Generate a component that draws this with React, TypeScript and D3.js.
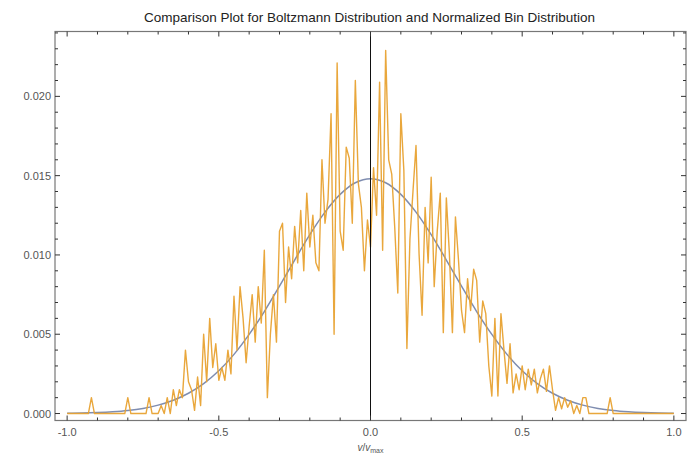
import React from "react";
import * as d3 from "d3";

const title = "Comparison Plot for Boltzmann Distribution and Normalized Bin Distribution";
const xTickValues = [-1, -0.5, 0, 0.5, 1];
const xTickLabels = ["-1.0", "-0.5", "0.0", "0.5", "1.0"];
const yTickValues = [0, 0.005, 0.01, 0.015, 0.02];
const yTickLabels = ["0.000", "0.005", "0.010", "0.015", "0.020"];

// normalized bin distribution, bins from -1.00 to 1.00 step 0.01
const binStart = -1;
const binStep = 0.01;
const binValues = [
  0, 0, 0, 0, 0, 0, 0, 0, 0.001, 0,
  0, 0, 0, 0, 0, 0, 0, 0, 0, 0,
  0.001, 0, 0, 0, 0, 0, 0, 0.001, 0, 0,
  0, 0.0005, 0, 0.001, 0, 0.0015, 0.0005, 0.0015, 0.001, 0.004,
  0.002, 0.0015, 0.0002, 0.0023, 0.0005, 0.005, 0.002, 0.006, 0.0029, 0.0044,
  0.0021, 0.0029, 0.0021, 0.004, 0.0025, 0.0074, 0.004, 0.008, 0.006, 0.0032,
  0.0055, 0.0075, 0.0045, 0.008, 0.0057, 0.0103, 0.001, 0.005, 0.0075, 0.0045,
  0.0115, 0.012, 0.007, 0.0105, 0.0085, 0.0118, 0.0095, 0.0128, 0.009, 0.0139,
  0.0105, 0.0125, 0.0095, 0.009, 0.016, 0.012, 0.0135, 0.0189, 0.005, 0.0221,
  0.0115, 0.0103, 0.0168, 0.0161, 0.012, 0.021, 0.0145, 0.013, 0.009, 0.0122,
  0.0105, 0.0155, 0.0125, 0.0209, 0.0103, 0.0229, 0.016, 0.0151, 0.0117, 0.0076,
  0.0189, 0.0153, 0.0041, 0.011, 0.014, 0.0169, 0.0101, 0.0062, 0.013, 0.0095,
  0.0149, 0.008, 0.0115, 0.0139, 0.0051, 0.0136, 0.0101, 0.0051, 0.0124, 0.0097,
  0.0065, 0.0051, 0.0085, 0.0065, 0.0091, 0.0084, 0.0045, 0.0071, 0.0063, 0.003,
  0.0011, 0.006, 0.0011, 0.0063, 0.004, 0.0019, 0.0044, 0.0013, 0.0025, 0.0015,
  0.003, 0.0015, 0.0028, 0.0018, 0.0028, 0.0013, 0.0022, 0.0028, 0.0014, 0.003,
  0.0015, 0.0002, 0.001, 0.0003, 0.001, 0.0004, 0.0008, 0, 0.0005, 0,
  0.001, 0.001, 0, 0, 0, 0, 0, 0, 0, 0.001,
  0, 0, 0, 0, 0, 0, 0, 0, 0, 0,
  0, 0, 0, 0, 0, 0, 0, 0, 0, 0,
  0,
];

// Boltzmann distribution curve, sampled from -1 to 1 step 0.05
const curveStart = -1;
const curveStep = 0.05;
const curveValues = [
  0.00002, 0.00003, 0.00006, 0.00011, 0.00019, 0.00032, 0.00053, 0.00084, 0.00128, 0.00189,
  0.0027, 0.00373, 0.00499, 0.00643, 0.00803, 0.00968, 0.01128, 0.0127, 0.01382, 0.01455,
  0.0148,
  0.01455, 0.01382, 0.0127, 0.01128, 0.00968, 0.00803, 0.00643, 0.00499, 0.00373, 0.0027,
  0.00189, 0.00128, 0.00084, 0.00053, 0.00032, 0.00019, 0.00011, 0.00006, 0.00003, 0.00002,
];

const W = 687;
const H = 470;
const left = 55;
const right = 686;
const top = 31.5;
const bottom = 420.5;

export default function App() {
  const x = d3.scaleLinear().domain([-1.04, 1.04]).range([left, right]);
  const y = d3.scaleLinear().domain([-0.00044, 0.02409]).range([bottom, top]);

  const binPts: [number, number][] = binValues.map((v, i) => [binStart + i * binStep, v]);
  const curvePts: [number, number][] = curveValues.map((v, i) => [curveStart + i * curveStep, v]);

  const line = d3.line<[number, number]>().x((d) => x(d[0])).y((d) => y(d[1]));
  const smooth = d3
    .line<[number, number]>()
    .x((d) => x(d[0]))
    .y((d) => y(d[1]))
    .curve(d3.curveCatmullRom);

  const xMinor = d3.range(-10, 11).map((k) => k / 10).filter((v) => !xTickValues.some((t) => Math.abs(t - v) < 1e-9));
  const yMinor = d3.range(0, 25).map((k) => k / 1000).filter((v) => !yTickValues.some((t) => Math.abs(t - v) < 1e-9));

  const tickColor = "#333";
  const labelColor = "#555";
  const font = "'Liberation Sans', Arial, sans-serif";

  return (
    <svg width={W} height={H} style={{ position: "absolute", left: 0, top: 0, background: "#fff" }}>
      <text x={(left + right) / 2 - 1} y={22} textAnchor="middle" fontFamily={font} fontSize={13.5} fill="#222">
        {title}
      </text>

      <path d={smooth(curvePts) || ""} fill="none" stroke="#7f8db0" strokeWidth={1.5} />
      <path d={line(binPts) || ""} fill="none" stroke="#e8a232" strokeWidth={1.4} strokeLinejoin="round" opacity={0.95} />

      {/* y axis at x = 0 */}
      <line x1={x(0)} x2={x(0)} y1={top} y2={bottom} stroke="#111" strokeWidth={1} />

      {/* frame */}
      <rect x={left} y={top} width={right - left} height={bottom - top} fill="none" stroke="#777" strokeWidth={1.2} />

      {/* x ticks bottom & top */}
      {xTickValues.map((v) => (
        <g key={"xt" + v}>
          <line x1={x(v)} x2={x(v)} y1={bottom} y2={bottom - 5} stroke={tickColor} />
          <line x1={x(v)} x2={x(v)} y1={top} y2={top + 5} stroke={tickColor} />
        </g>
      ))}
      {xMinor.map((v) => (
        <g key={"xm" + v}>
          <line x1={x(v)} x2={x(v)} y1={bottom} y2={bottom - 3} stroke={tickColor} />
          <line x1={x(v)} x2={x(v)} y1={top} y2={top + 3} stroke={tickColor} />
        </g>
      ))}
      {xTickValues.map((v, i) => (
        <text key={"xl" + v} x={x(v)} y={bottom + 15} textAnchor="middle" fontFamily={font} fontSize={11} fill={labelColor}>
          {xTickLabels[i]}
        </text>
      ))}

      {/* y ticks left & right */}
      {yTickValues.map((v) => (
        <g key={"yt" + v}>
          <line x1={left} x2={left + 5} y1={y(v)} y2={y(v)} stroke={tickColor} />
          <line x1={right} x2={right - 5} y1={y(v)} y2={y(v)} stroke={tickColor} />
        </g>
      ))}
      {yMinor.map((v) => (
        <g key={"ym" + v}>
          <line x1={left} x2={left + 3} y1={y(v)} y2={y(v)} stroke={tickColor} />
          <line x1={right} x2={right - 3} y1={y(v)} y2={y(v)} stroke={tickColor} />
        </g>
      ))}
      {yTickValues.map((v, i) => (
        <text key={"yl" + v} x={left - 4} y={y(v) + 4} textAnchor="end" fontFamily={font} fontSize={11} fill={labelColor}>
          {yTickLabels[i]}
        </text>
      ))}

      <text x={x(0)} y={451} textAnchor="middle" fontFamily={font} fontSize={10} fill={labelColor}>
        <tspan fontStyle="italic">v</tspan>
        <tspan>/</tspan>
        <tspan fontStyle="italic">v</tspan>
        <tspan fontSize={7} dy={2}>max</tspan>
      </text>
    </svg>
  );
}
